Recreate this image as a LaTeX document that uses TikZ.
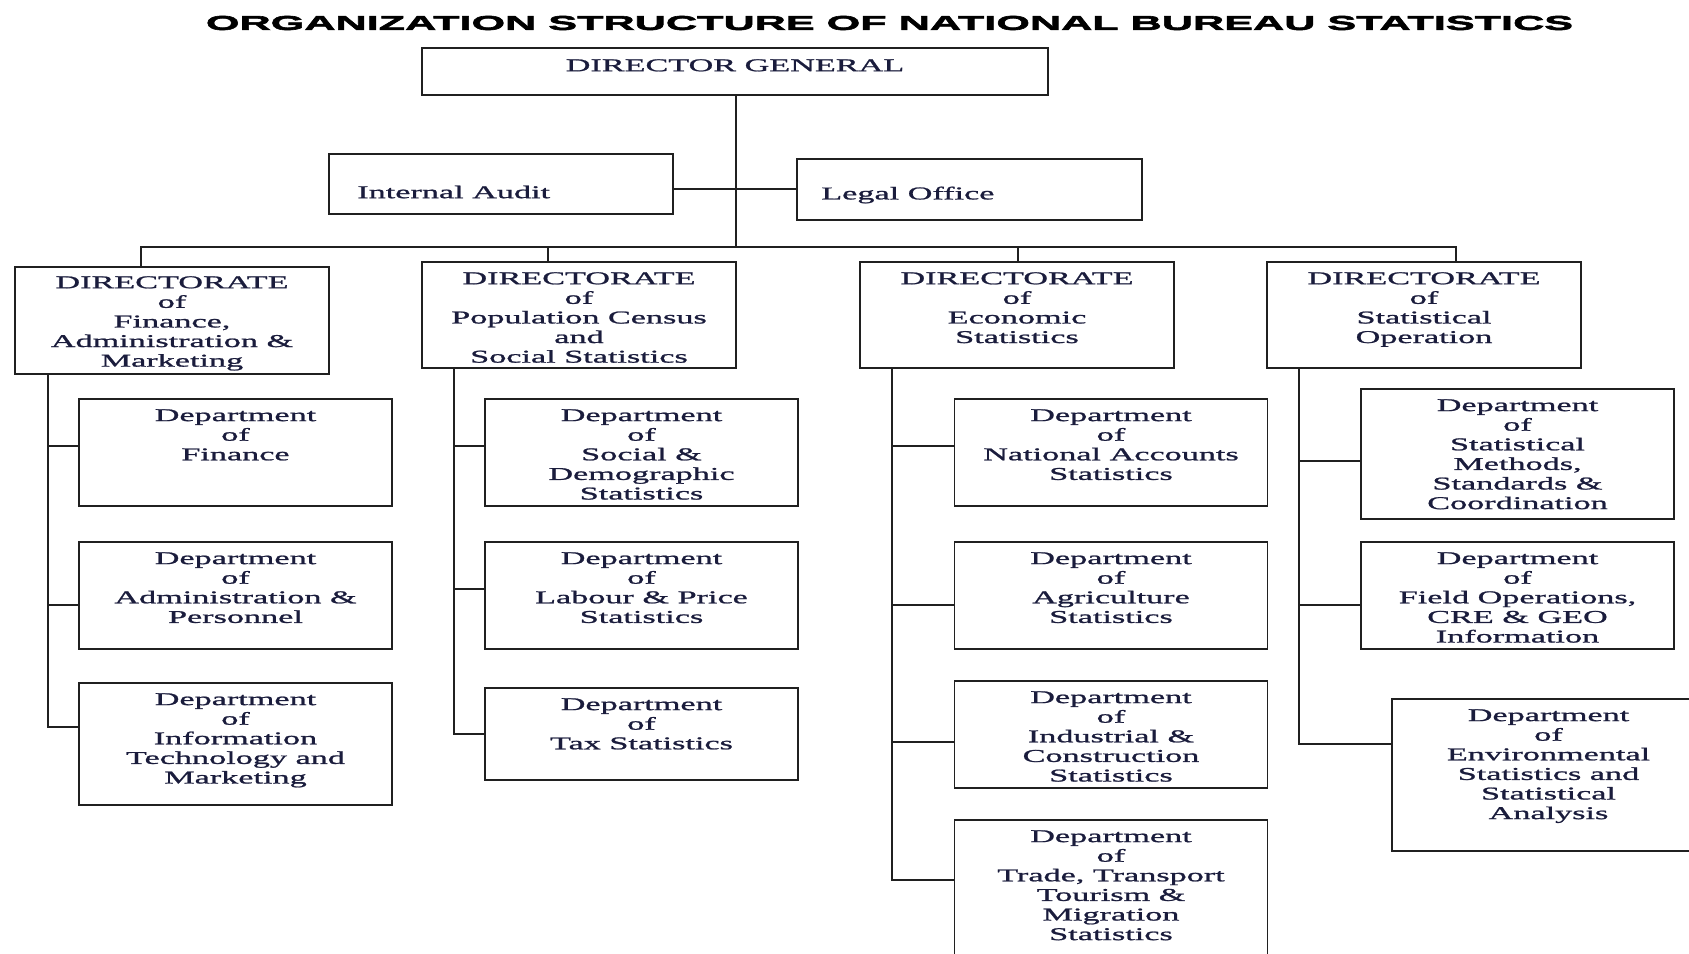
\documentclass[tikz,border=0pt]{standalone}
\usepackage{fontspec}
\usepackage{xcolor}
\setmainfont{Liberation Serif}[FakeStretch=1.9,FakeBold=1.2]
\newfontfamily\TitleFont{Liberation Sans}[FakeStretch=2.16,FakeBold=3]
\definecolor{inkNavy}{RGB}{26,28,60}
\definecolor{boxLine}{RGB}{32,32,32}
\newcommand{\BoxFont}{\fontsize{18}{19.6}\selectfont}

\begin{document}
\begin{tikzpicture}[x=1pt,y=-1pt,
  orgbox/.style={draw=boxLine,line width=1.8pt,fill=white,inner sep=0pt},
  dirbox/.style={orgbox,minimum width=314pt,minimum height=106pt},
  deptbox/.style={orgbox,minimum width=313pt},
  toptext/.style={anchor=north,align=center,inner xsep=0pt,inner ysep=11pt,font=\BoxFont,text=inkNavy},
  sidetext/.style={anchor=west,inner sep=0pt,font=\BoxFont,text=inkNavy},
  link/.style={draw=boxLine,line width=1.8pt}]
\path[use as bounding box,fill=white] (0,0) rectangle (1689,953);
\clip (0,0) rectangle (1689,953);

\node[font=\TitleFont\bfseries\fontsize{20}{21}\selectfont] (title) at (889.5,23)
  {ORGANIZATION STRUCTURE OF NATIONAL BUREAU STATISTICS};

% top of the chart
\node[orgbox,minimum width=626pt,minimum height=47pt,
  label={[toptext,inner ysep=12pt]north:{DIRECTOR GENERAL}}] (dg) at (735,71.5) {};
\node[orgbox,minimum width=344pt,minimum height=60pt,
  label={[sidetext,xshift=29pt,yshift=-8pt]west:{Internal Audit}}] (ia) at (501,184) {};
\node[orgbox,minimum width=345pt,minimum height=61pt,
  label={[sidetext,xshift=25pt,yshift=-5.5pt]west:{Legal Office}}] (lo) at (969.5,189.5) {};

% directorates
\node[dirbox,minimum height=107pt,label={[toptext,inner ysep=10pt]north:{DIRECTORATE\\of\\Finance,\\Administration \&\\Marketing}}] (d1) at (172,320.5) {};
\node[dirbox,label={[toptext]north:{DIRECTORATE\\of\\Population Census\\and\\Social Statistics}}] (d2) at (579,315) {};
\node[dirbox,label={[toptext]north:{DIRECTORATE\\of\\Economic\\Statistics}}] (d3) at (1017,315) {};
\node[dirbox,label={[toptext]north:{DIRECTORATE\\of\\Statistical\\Operation}}] (d4) at (1424,315) {};

% departments
\node[deptbox,minimum height=107pt,label={[toptext]north:{Department\\of\\Finance}}] (fin) at (235.5,452.5) {};
\node[deptbox,minimum height=107pt,label={[toptext]north:{Department\\of\\Administration \&\\Personnel}}] (adm) at (235.5,595.5) {};
\node[deptbox,minimum height=122pt,label={[toptext]north:{Department\\of\\Information\\Technology and\\Marketing}}] (itm) at (235.5,744) {};

\node[deptbox,minimum height=107pt,label={[toptext]north:{Department\\of\\Social \&\\Demographic\\Statistics}}] (soc) at (641.5,452.5) {};
\node[deptbox,minimum height=107pt,label={[toptext]north:{Department\\of\\Labour \& Price\\Statistics}}] (lab) at (641.5,595.5) {};
\node[deptbox,minimum height=92pt,label={[toptext]north:{Department\\of\\Tax Statistics}}] (tax) at (641.5,734) {};

\node[deptbox,minimum height=107pt,label={[toptext]north:{Department\\of\\National Accounts\\Statistics}}] (nac) at (1111,452.5) {};
\node[deptbox,minimum height=107pt,label={[toptext]north:{Department\\of\\Agriculture\\Statistics}}] (agr) at (1111,595.5) {};
\node[deptbox,minimum height=107pt,label={[toptext]north:{Department\\of\\Industrial \&\\Construction\\Statistics}}] (ind) at (1111,734.5) {};
\node[deptbox,minimum height=155pt,label={[toptext]north:{Department\\of\\Trade, Transport\\Tourism \&\\Migration\\Statistics}}] (trd) at (1111,897.5) {};

\node[deptbox,minimum height=130pt,label={[toptext]north:{Department\\of\\Statistical\\Methods,\\Standards \&\\Coordination}}] (smc) at (1517.5,454) {};
\node[deptbox,minimum height=107pt,label={[toptext]north:{Department\\of\\Field Operations,\\CRE \& GEO\\Information}}] (fop) at (1517.5,595.5) {};
\node[deptbox,minimum height=152pt,label={[toptext]north:{Department\\of\\Environmental\\Statistics and\\Statistical\\Analysis}}] (env) at (1548.5,775) {};

% connectors
\coordinate (bus) at (736,247);
\draw[link] (dg.south -| bus) -- (bus);
\draw[link] (ia.east |- 0,189) -- (lo.west |- 0,189);
\draw[link] (bus) -| (d1.north -| 141,0);
\draw[link] (bus) -| (d2.north -| 548,0);
\draw[link] (bus) -| (d3.north -| 1018,0);
\draw[link] (bus) -| (d4.north -| 1456,0);

\draw[link] (d1.south -| 48,0) |- (fin.west |- 0,446);
\draw[link] (d1.south -| 48,0) |- (adm.west |- 0,605);
\draw[link] (d1.south -| 48,0) |- (itm.west |- 0,727);

\draw[link] (d2.south -| 454,0) |- (soc.west |- 0,446);
\draw[link] (d2.south -| 454,0) |- (lab.west |- 0,589);
\draw[link] (d2.south -| 454,0) |- (tax.west |- 0,734);

\draw[link] (d3.south -| 892,0) |- (nac.west |- 0,446);
\draw[link] (d3.south -| 892,0) |- (agr.west |- 0,605);
\draw[link] (d3.south -| 892,0) |- (ind.west |- 0,742);
\draw[link] (d3.south -| 892,0) |- (trd.west |- 0,880);

\draw[link] (d4.south -| 1299,0) |- (smc.west |- 0,461);
\draw[link] (d4.south -| 1299,0) |- (fop.west |- 0,605);
\draw[link] (d4.south -| 1299,0) |- (env.west |- 0,744);
\end{tikzpicture}
\end{document}
